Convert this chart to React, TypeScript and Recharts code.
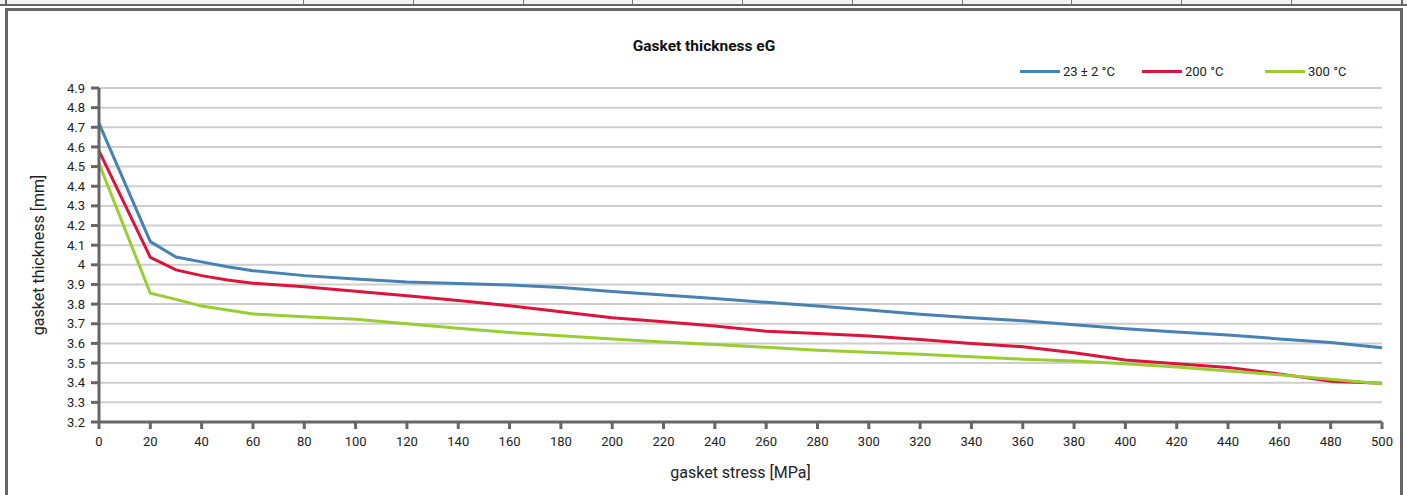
import { LineChart, Line, XAxis, YAxis, CartesianGrid, Label } from 'recharts';

const stress = [0, 20, 30, 40, 50, 60, 80, 100, 120, 140, 160, 180, 200, 220, 240, 260, 280, 300, 320, 340, 360, 380, 400, 420, 440, 460, 480, 500];
const thickness23 = [4.72, 4.118, 4.04, 4.015, 3.99, 3.97, 3.945, 3.928, 3.913, 3.905, 3.897, 3.885, 3.864, 3.847, 3.829, 3.809, 3.79, 3.77, 3.749, 3.73, 3.715, 3.695, 3.675, 3.658, 3.643, 3.623, 3.605, 3.578];
const thickness200 = [4.58, 4.038, 3.974, 3.945, 3.923, 3.906, 3.888, 3.866, 3.843, 3.818, 3.792, 3.761, 3.731, 3.71, 3.689, 3.662, 3.65, 3.638, 3.62, 3.6, 3.583, 3.553, 3.516, 3.497, 3.478, 3.445, 3.408, 3.397];
const thickness300 = [4.516, 3.855, 3.824, 3.79, 3.77, 3.75, 3.736, 3.723, 3.7, 3.677, 3.656, 3.639, 3.622, 3.607, 3.595, 3.58, 3.565, 3.555, 3.545, 3.532, 3.52, 3.51, 3.497, 3.48, 3.46, 3.44, 3.418, 3.395];

const xTicks = [0, 20, 40, 60, 80, 100, 120, 140, 160, 180, 200, 220, 240, 260, 280, 300, 320, 340, 360, 380, 400, 420, 440, 460, 480, 500];
const yTicks = [3.2, 3.3, 3.4, 3.5, 3.6, 3.7, 3.8, 3.9, 4.0, 4.1, 4.2, 4.3, 4.4, 4.5, 4.6, 4.7, 4.8, 4.9];

const seriesNames = ['23 ± 2 °C', '200 °C', '300 °C'];
const seriesColors = ['#4682b4', '#dc143c', '#9acd32'];
const seriesKeys = ['t23', 't200', 't300'];

// small table strip dividers above the chart box
const stripDividers = [303, 413, 523, 632, 742, 852, 962, 1071, 1181, 1291];

const data = stress.map((s, i) => ({
    stress: s,
    t23: thickness23[i],
    t200: thickness200[i],
    t300: thickness300[i],
}));

const font = 'Roboto, "Noto Sans", sans-serif';
const legendX = [1020, 1142, 1265];

export default function App() {
    return (
        <div style={{ position: 'absolute', left: 0, top: 0, width: 1407, height: 495, overflow: 'hidden', background: '#fff', fontFamily: font }}>
            {/* strip at the top */}
            <div style={{ position: 'absolute', left: 0, top: 0, width: 1407, height: 4, background: '#f2f2f2' }} />
            <div style={{ position: 'absolute', left: 0, top: 4, width: 1407, height: 2, background: '#666' }} />
            <div style={{ position: 'absolute', left: 5, top: 0, width: 2, height: 5, background: '#666' }} />
            {stripDividers.map((x) => (
                <div key={x} style={{ position: 'absolute', left: x, top: 0, width: 1, height: 5, background: '#777' }} />
            ))}
            <div style={{ position: 'absolute', left: 1401, top: 0, width: 2, height: 5, background: '#666' }} />

            <LineChart width={1407} height={495} data={data} margin={{ top: 88, right: 25, left: 0, bottom: 0 }} style={{ position: 'absolute', left: 0, top: 0 }}>
                <CartesianGrid vertical={false} stroke="#cecece" strokeWidth={2} />
                <XAxis
                    dataKey="stress"
                    type="number"
                    domain={[0, 500]}
                    ticks={xTicks}
                    height={73}
                    stroke="#666"
                    strokeWidth={3}
                    tickSize={7}
                    tickMargin={8}
                    tick={{ fill: '#222', fontSize: 13, fontFamily: font }}
                >
                    <Label value="gasket stress [MPa]" position="insideBottom" offset={17} style={{ fill: '#222', fontSize: 16, fontFamily: font }} />
                </XAxis>
                <YAxis
                    type="number"
                    domain={[3.2, 4.9]}
                    ticks={yTicks}
                    width={99}
                    stroke="#666"
                    strokeWidth={3}
                    tickSize={8}
                    tickMargin={6}
                    interval={0}
                    allowDataOverflow
                    tickFormatter={(v: number) => String(Number(v.toFixed(1)))}
                    tick={{ fill: '#222', fontSize: 13, fontFamily: font }}
                >
                    <Label value="gasket thickness [mm]" angle={-90} position="insideLeft" offset={38} style={{ fill: '#222', fontSize: 16, fontFamily: font, textAnchor: 'middle' }} />
                </YAxis>
                {seriesKeys.map((k, i) => (
                    <Line
                        key={k}
                        type="linear"
                        dataKey={k}
                        name={seriesNames[i]}
                        stroke={seriesColors[i]}
                        strokeWidth={3}
                        dot={false}
                        activeDot={false}
                        isAnimationActive={false}
                    />
                ))}
            </LineChart>

            {/* chart box border */}
            <div style={{ position: 'absolute', left: 5, top: 8, width: 1398, height: 500, border: '3px solid #666', boxSizing: 'border-box', pointerEvents: 'none' }} />

            <div style={{ position: 'absolute', left: 8, top: 37, width: 1392, textAlign: 'center', fontSize: 15.5, fontWeight: 700, color: '#111' }}>
                Gasket thickness eG
            </div>

            {seriesNames.map((n, i) => (
                <div key={n} style={{ position: 'absolute', left: legendX[i], top: 62, height: 18, display: 'flex', alignItems: 'center', fontSize: 13, color: '#222', whiteSpace: 'nowrap' }}>
                    <div style={{ width: 40, height: 3, background: seriesColors[i], marginRight: 3 }} />
                    <span>{n}</span>
                </div>
            ))}
        </div>
    );
}
